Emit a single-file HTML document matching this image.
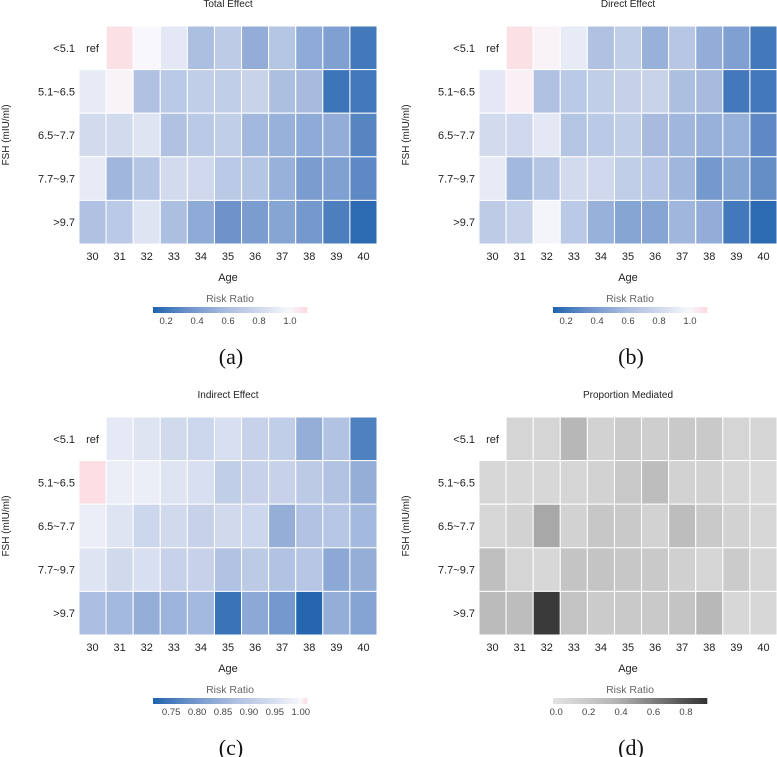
<!DOCTYPE html>
<html><head><meta charset="utf-8"><style>
body{margin:0;background:#fff}
svg{display:block;font-family:"Liberation Sans",sans-serif}
</style></head><body>
<svg id="c" width="777" height="757" viewBox="0 0 777 757" xmlns="http://www.w3.org/2000/svg"></svg>
<script>
const ages=["30","31","32","33","34","35","36","37","38","39","40"];
const fshLevels=["<5.1","5.1~6.5","6.5~7.7","7.7~9.7",">9.7"];
const totalEffect=[
[null,1.08,1.0,0.9,0.6,0.7,0.5,0.65,0.48,0.42,0.22],
[0.92,1.02,0.62,0.68,0.72,0.72,0.76,0.6,0.58,0.2,0.22],
[0.82,0.82,0.88,0.62,0.68,0.72,0.56,0.52,0.48,0.5,0.28],
[0.92,0.55,0.65,0.82,0.8,0.68,0.65,0.52,0.4,0.42,0.3],
[0.62,0.68,0.88,0.6,0.48,0.35,0.4,0.45,0.38,0.25,0.15]];
const directEffect=[
[null,1.08,1.02,0.92,0.62,0.72,0.52,0.66,0.5,0.42,0.22],
[0.9,1.03,0.62,0.68,0.72,0.74,0.76,0.6,0.58,0.22,0.22],
[0.82,0.8,0.9,0.64,0.68,0.72,0.58,0.55,0.52,0.52,0.3],
[0.92,0.56,0.65,0.82,0.8,0.72,0.66,0.55,0.38,0.45,0.32],
[0.7,0.75,0.98,0.68,0.52,0.45,0.45,0.55,0.5,0.22,0.15]];
const indirectEffect=[
[null,0.97,0.96,0.94,0.93,0.95,0.92,0.91,0.84,0.88,0.76],
[1.01,0.98,0.98,0.96,0.95,0.91,0.92,0.92,0.9,0.88,0.84],
[0.98,0.96,0.93,0.94,0.92,0.94,0.93,0.84,0.88,0.89,0.86],
[0.96,0.94,0.95,0.92,0.92,0.88,0.9,0.88,0.89,0.83,0.84],
[0.87,0.86,0.84,0.85,0.86,0.74,0.83,0.8,0.72,0.84,0.82]];
const proportionMediated=[
[null,0.1,0.1,0.35,0.12,0.18,0.16,0.2,0.2,0.1,0.1],
[0.08,0.08,0.08,0.1,0.12,0.2,0.3,0.12,0.12,0.08,0.06],
[0.08,0.12,0.42,0.12,0.22,0.2,0.12,0.3,0.2,0.12,0.08],
[0.28,0.1,0.08,0.24,0.24,0.22,0.2,0.14,0.1,0.18,0.1],
[0.32,0.3,0.9,0.25,0.18,0.2,0.2,0.24,0.34,0.08,0.08]];
const ticksA=[0.2,0.4,0.6,0.8,1.0];
const ticksC=[0.75,0.80,0.85,0.90,0.95,1.00];
const ticksD=[0.0,0.2,0.4,0.6,0.8];

const NS="http://www.w3.org/2000/svg";
const svg=document.getElementById('c');
function el(t,a,p){const e=document.createElementNS(NS,t);for(const k in a)e.setAttribute(k,a[k]);(p||svg).appendChild(e);return e;}
function hex(h){return [parseInt(h.slice(1,3),16),parseInt(h.slice(3,5),16),parseInt(h.slice(5,7),16)];}
function interp(stops,t){t=Math.max(0,Math.min(1,t));for(let i=1;i<stops.length;i++){if(t<=stops[i][0]){const a=stops[i-1],b=stops[i];const f=(t-a[0])/(b[0]-a[0]||1);const ca=hex(a[1]),cb=hex(b[1]);return `rgb(${ca.map((v,j)=>Math.round(v+(cb[j]-v)*f)).join(',')})`;}}return stops[stops.length-1][1];}
function blueMap(min,max){const w=(1.0-min)/(max-min);return v=>interp([[0,'#2063ad'],[w*0.25,'#6a91c9'],[w*0.55,'#adbfe1'],[w*0.8,'#d3dbee'],[w,'#f8f8fc'],[1,'#fbd8de']],(v-min)/(max-min));}
function grayMap(min,max){return v=>interp([[0,'#e3e3e3'],[0.4,'#b6b6b6'],[1,'#333333']],(v-min)/(max-min));}

function panel(ox,oy,title,data,cmap,vmin,vmax,ticks,dec,letter,id){
  const g=el('g',{});
  const L=ox+79,T=oy+26,W=298,H=218,cw=W/ages.length,ch=H/fshLevels.length;
  const x=i=>L+i*cw, y=j=>T+j*ch;
  let t=el('text',{x:ox+228,y:oy+7,'text-anchor':'middle','font-size':10,fill:'#222'},g);t.textContent=title;
  
  data.forEach((row,j)=>row.forEach((v,i)=>{
    if(v===null)return;
    const r=el('rect',{x:x(i),y:y(j),width:cw,height:ch,fill:cmap(v),stroke:'#fff','stroke-width':1},g);
    
    
  }));
  t=el('text',{x:x(0)+cw/2,y:y(0)+ch/2+4,'text-anchor':'middle','font-size':11,fill:'#222'},g);t.textContent='ref';
  
  fshLevels.forEach((s,j)=>{const e=el('text',{x:L-4,y:y(j)+ch/2+4,'text-anchor':'end','font-size':11,fill:'#222'},g);e.textContent=s;
    });
  ages.forEach((s,i)=>{const e=el('text',{x:x(i)+cw/2,y:T+H+16,'text-anchor':'middle','font-size':11,fill:'#222'},g);e.textContent=s;
    });
  t=el('text',{x:ox+228,y:oy+281,'text-anchor':'middle','font-size':11,fill:'#222'},g);t.textContent='Age';
  
  t=el('text',{x:0,y:0,'text-anchor':'middle','font-size':10,fill:'#222',transform:`translate(${ox+9},${oy+135}) rotate(-90)`},g);t.textContent='FSH (mIU/ml)';
  
  t=el('text',{x:ox+230,y:oy+302,'text-anchor':'middle','font-size':10.5,fill:'#666'},g);t.textContent='Risk Ratio';
  
  const cbL=ox+153,cbW=154,cbT=oy+307;
  const cx=v=>cbL+(v-vmin)/(vmax-vmin)*cbW;
  const cb=el('g',{},g);
  for(let k=0;k<77;k++){const v=vmin+(k+0.5)/77*(vmax-vmin);el('rect',{x:cbL+k*2,y:cbT,width:2.3,height:6,fill:cmap(v)},cb);}
  ticks.forEach(v=>{const e=el('text',{x:cx(v),y:cbT+17,'text-anchor':'middle','font-size':9.5,fill:'#444'},g);e.textContent=v.toFixed(dec);
    });
  t=el('text',{x:ox+231,y:oy+364,'text-anchor':'middle','font-size':22,'font-family':'Liberation Serif,serif',fill:'#111'},g);t.textContent=letter;
  
}
panel(0,0,'Total Effect',totalEffect,blueMap(0.115,1.11),0.115,1.11,ticksA,1,'(a)','total-effect');
panel(400,0,'Direct Effect',directEffect,blueMap(0.115,1.11),0.115,1.11,ticksA,1,'(b)','direct-effect');
panel(0,391,'Indirect Effect',indirectEffect,blueMap(0.715,1.012),0.715,1.012,ticksC,2,'(c)','indirect-effect');
panel(400,391,'Proportion Mediated',proportionMediated,grayMap(-0.02,0.93),-0.02,0.93,ticksD,1,'(d)','proportion-mediated');
</script>
</body></html>
